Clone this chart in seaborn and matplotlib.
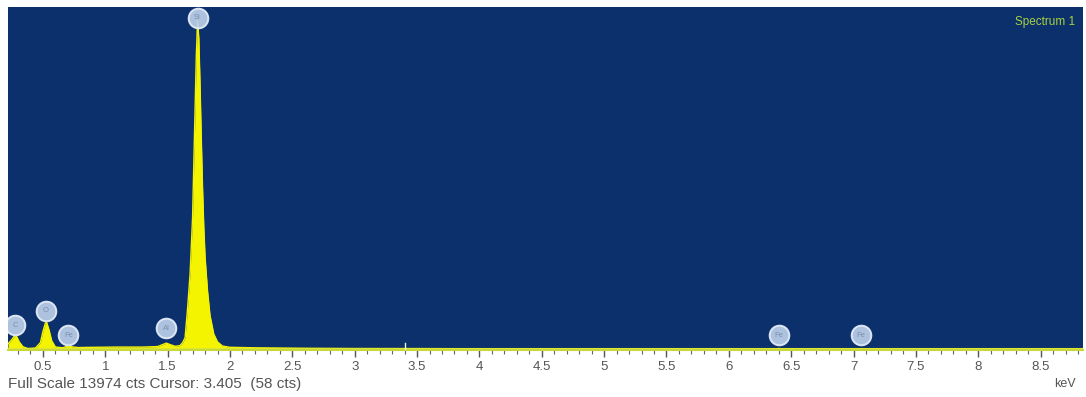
import numpy as np
import pandas as pd
import matplotlib
matplotlib.use("Agg")
import matplotlib.pyplot as plt
import seaborn as sns

# EDS spectrum (keV, counts)
energy_kev = [0.22, 0.25, 0.27, 0.28, 0.29, 0.31, 0.34, 0.38, 0.44, 0.48,
              0.50, 0.52, 0.53, 0.55, 0.57, 0.60, 0.66, 0.69, 0.71, 0.73,
              0.78, 0.90, 1.10, 1.30, 1.42, 1.46, 1.49, 1.52, 1.56, 1.60,
              1.62, 1.64, 1.66, 1.68, 1.70, 1.71, 1.72, 1.73, 1.74, 1.75,
              1.76, 1.77, 1.78, 1.79, 1.80, 1.82, 1.84, 1.87, 1.90, 1.94,
              2.00, 2.20, 2.60, 3.00, 3.50, 4.00, 5.00, 6.00, 6.36, 6.40,
              6.44, 6.90, 7.06, 7.20, 8.00, 8.84]
counts = [250, 420, 560, 580, 540, 330, 130, 60, 80, 300,
          750, 1100, 1120, 800, 380, 120, 90, 150, 170, 130,
          100, 110, 120, 120, 140, 220, 280, 220, 150, 180,
          300, 500, 1700, 3100, 5400, 7600, 9800, 12000, 13400, 12700,
          10800, 8600, 6600, 5000, 3800, 2400, 1400, 650, 330, 160,
          110, 90, 70, 60, 58, 50, 40, 30, 40, 60,
          40, 25, 30, 22, 18, 15]

# element label markers
peak_labels = ["C", "O", "Fe", "Al", "Si", "Fe", "Fe"]
peak_energy = [0.277, 0.525, 0.705, 1.49, 1.74, 6.40, 7.06]
peak_mark_y = [1018, 1589, 611, 896, 13526, 611, 611]

full_scale = 13974
major_ticks = [0.5, 1, 1.5, 2, 2.5, 3, 3.5, 4, 4.5, 5, 5.5, 6, 6.5, 7, 7.5, 8, 8.5]
tick_labels = ["0.5", "1", "1.5", "2", "2.5", "3", "3.5", "4", "4.5", "5",
               "5.5", "6", "6.5", "7", "7.5", "8", "8.5"]

plt.rcParams['font.family'] = ['Liberation Sans', 'DejaVu Sans']

spec = pd.DataFrame({"keV": energy_kev, "cts": counts})
marks = pd.DataFrame({"keV": peak_energy, "y": peak_mark_y, "el": peak_labels})

fig = plt.figure(figsize=(10.86, 3.97), dpi=100)
ax = fig.add_axes([8 / 1086, 1 - 350 / 397, 1075 / 1086, 343 / 397])
ax.set_facecolor("#0b306c")

ax.fill_between(spec["keV"], spec["cts"], 0, color="#f4f400", lw=0)
sns.lineplot(data=spec, x="keV", y="cts", ax=ax, color="#f4f400", lw=1)
ax.axhline(40, color="#e0e830", lw=1.5)

sns.scatterplot(data=marks, x="keV", y="y", ax=ax, s=200, color="#bcd0ea",
                edgecolor="#e6eefa", linewidth=1.4, alpha=0.92, zorder=5)
for e, y, lab in zip(peak_energy, peak_mark_y, peak_labels):
    ax.text(e, y, lab, ha="center", va="center", fontsize=5.5,
            color="#7d90aa", zorder=6)

# cursor mark
ax.plot([3.405, 3.405], [0, 300], color="#f0f8d0", lw=1, zorder=4)

ax.set_xlim(0.22, 8.84)
ax.set_ylim(0, full_scale)
ax.set_xticks(major_ticks)
ax.set_xticklabels(tick_labels)
ax.set_xticks(np.arange(0.3, 8.85, 0.1), minor=True)
ax.set_yticks([])
ax.tick_params(axis="x", which="major", length=5, width=1, color="#555555",
               labelsize=9.5, labelcolor="#555555", pad=3)
ax.tick_params(axis="x", which="minor", length=3, width=0.8, color="#666666")
ax.set_xlabel("")
ax.set_ylabel("")
for s in ["top", "right", "left"]:
    ax.spines[s].set_visible(False)
ax.spines["bottom"].set_color("#c8d838")
ax.spines["bottom"].set_linewidth(1.5)

ax.text(0.993, 0.975, "Spectrum 1", transform=ax.transAxes, ha="right",
        va="top", fontsize=8.5, color="#a8d040")
fig.text(8 / 1086, 1 - 384 / 397, "Full Scale 13974 cts Cursor: 3.405  (58 cts)",
         ha="left", va="center", fontsize=11, color="#555555")
fig.text(1076 / 1086, 1 - 384 / 397, "keV", ha="right", va="center",
         fontsize=9, color="#555555")

fig.savefig("out.png", dpi=100)
